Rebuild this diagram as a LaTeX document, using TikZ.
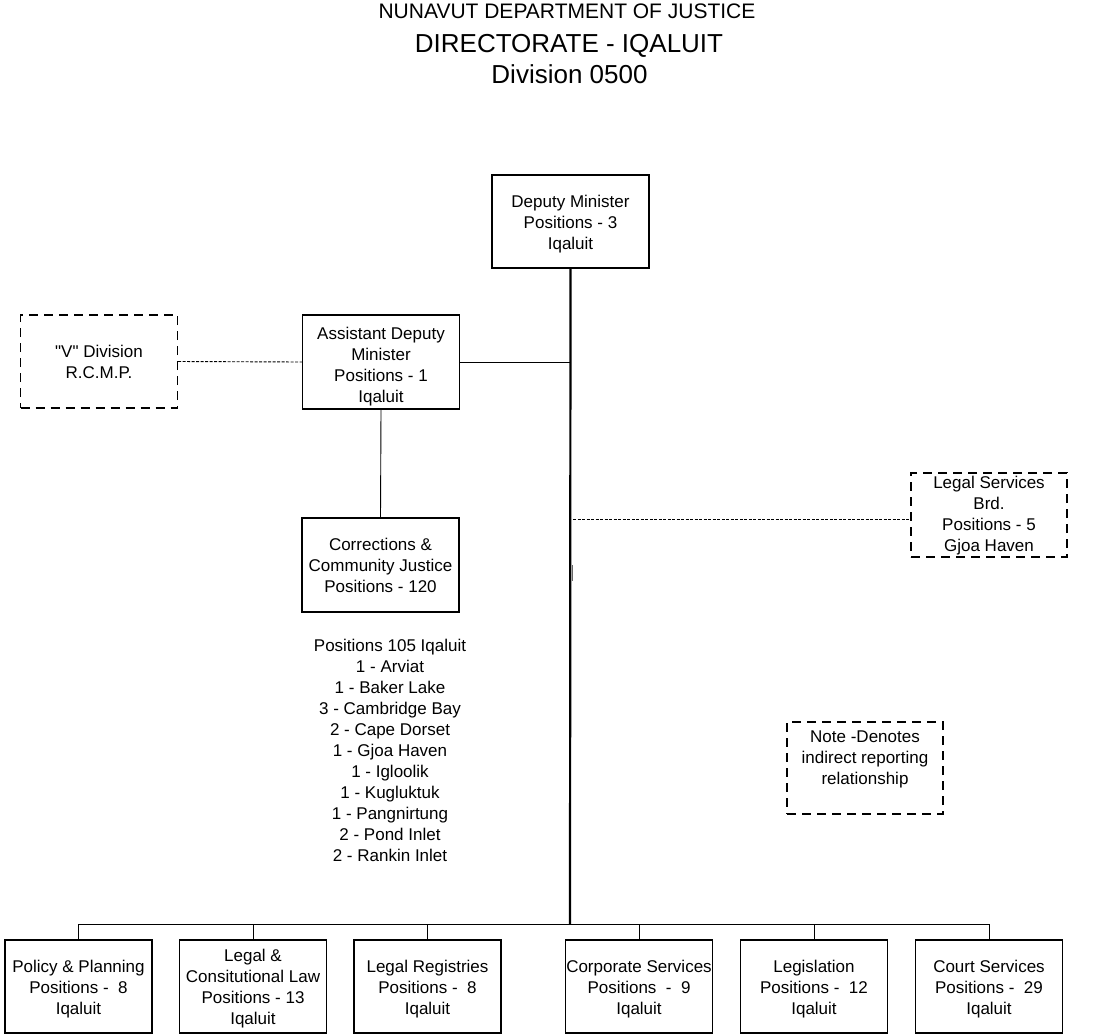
\documentclass[tikz,border=0pt]{standalone}
\usepackage{fontspec}
\setmainfont{Liberation Sans}
\newfontfamily\plainsans{Liberation Sans}
\newcommand{\nodefont}{\fontsize{17}{21}\selectfont}
\newcommand{\lowerby}[1]{\rule{0pt}{#1}}
\begin{document}
\begin{tikzpicture}[x=1pt,y=-1pt,
  box/.style={draw=black, line width=1.1pt, inner sep=0pt, align=center, font=\nodefont,
    minimum height=93pt, minimum width=157pt},
  dbox/.style={box, dash pattern=on 9pt off 6pt},
  bbox/.style={box, minimum width=147pt},
  solidline/.style={draw=black, line width=0.9pt},
  mainline/.style={draw=black, line width=2.2pt},
  dline/.style={draw=black, line width=0.9pt, dash pattern=on 3pt off 1.5pt},
  titleA/.style={anchor=base, font=\fontsize{21}{25}\selectfont},
  titleB/.style={anchor=base, font=\fontsize{26}{30}\selectfont}]
\useasboundingbox (0,0) rectangle (1100,1034);
% titles
\node[titleA] (t1) at (567,18) {NUNAVUT DEPARTMENT OF JUSTICE};
\node[titleB] (t2) at (569,52) {DIRECTORATE - IQALUIT};
\node[titleB] (t3) at (569.5,83) {Division 0500};
% boxes
\node[box] (dm) at (570.5,221.5) {\lowerby{17pt}Deputy Minister\\Positions - 3\\Iqaluit};
\node[box, minimum height=94pt] (adm) at (381,362) {\lowerby{22pt}Assistant Deputy\\Minister\\Positions - 1\\Iqaluit};
\node[dbox] (vdiv) at (99,361.5) {\lowerby{14pt}{\plainsans\symbol{34}V\symbol{34}} Division\\R.C.M.P.};
\node[box, minimum height=94pt] (corr) at (380.5,565) {Corrections \&\\Community Justice\\Positions - 120};
\node[dbox, minimum height=84pt, minimum width=156pt] (lsb) at (989,515) {\lowerby{14pt}Legal Services\\Brd.\\Positions - 5\\Gjoa Haven};
\node[dbox, minimum height=92pt, minimum width=156pt] (note) at (865,768) {Note -Denotes\\indirect reporting\\relationship\\\mbox{}};
\node[align=center, font=\nodefont, inner sep=0pt] (list) at (390,750) {Positions 105 Iqaluit\\1 - Arviat\\1 - Baker Lake\\3 - Cambridge Bay\\2 - Cape Dorset\\1 - Gjoa Haven\\1 - Igloolik\\1 - Kugluktuk\\1 - Pangnirtung\\2 - Pond Inlet\\2 - Rankin Inlet};
% bottom row
\node[bbox] (b1) at (78.5,986.5) {\lowerby{17.5pt}Policy \& Planning\\Positions -\ \ 8\\Iqaluit};
\node[bbox] (b2) at (253,986.5) {\lowerby{16pt}Legal \&\\Consitutional Law\\Positions - 13\\Iqaluit};
\node[bbox] (b3) at (427.5,986.5) {\lowerby{17.5pt}Legal Registries\\Positions -\ \ 8\\Iqaluit};
\node[bbox] (b4) at (639,986.5) {\lowerby{17.5pt}Corporate Services\\Positions\ \ -\ \ 9\\Iqaluit};
\node[bbox] (b5) at (814,986.5) {\lowerby{17.5pt}Legislation\\Positions -\ \ 12\\Iqaluit};
\node[bbox] (b6) at (989,986.5) {\lowerby{17.5pt}Court Services\\Positions -\ \ 29\\Iqaluit};
% connectors
\coordinate (bus) at (570,924);
\coordinate (lsbj) at (573,519);
\coordinate (tickA) at (572.5,565);
\coordinate (tickB) at (572.5,581);
\draw[mainline] (dm.south) -- (bus);
\draw[solidline] (adm.east) -- (adm.east -| dm.south);
\draw[dline] (vdiv.east) -- (adm.west);
\draw[solidline] (adm.south) -- (corr.north);
\draw[dline] (lsbj) -- (lsbj -| lsb.west);
\draw[draw=black!60, line width=0.9pt] (tickA) -- (tickB);
\draw[solidline] (b1.north |- bus) -- (b6.north |- bus);
\foreach \b in {b1,b2,b3,b4,b5,b6}{\draw[solidline] (\b.north |- bus) -- (\b.north);}
\end{tikzpicture}
\end{document}
